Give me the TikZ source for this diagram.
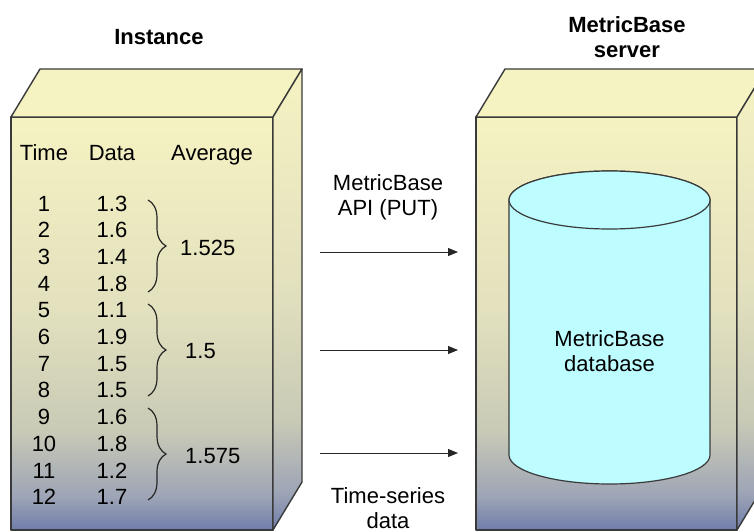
\documentclass[tikz,border=0pt]{standalone}
\usepackage{fontspec}
\setmainfont{Liberation Sans}
\usetikzlibrary{decorations.pathreplacing,arrows.meta}
\definecolor{lineC}{HTML}{3A3A3A}
\definecolor{topC}{HTML}{F6F3C2}
\definecolor{cT}{HTML}{F5F2C2}
\definecolor{cM}{HTML}{E3E1BE}
\definecolor{cMM}{HTML}{C9CAB6}
\definecolor{cBB}{HTML}{9DA4B6}
\definecolor{cB}{HTML}{6F7DAA}
\definecolor{cylC}{HTML}{BDFCFF}
\pgfdeclareverticalshading{boxshade}{100bp}{color(0bp)=(cB); color(25bp)=(cB); color(29bp)=(cBB); color(37bp)=(cMM); color(52bp)=(cM); color(75bp)=(cT); color(100bp)=(cT)}
\begin{document}
\begin{tikzpicture}[x=1pt,y=-1pt,
  font=\fontsize{22}{25}\selectfont,
  edge/.style={draw=lineC, line width=1.4pt, line join=round},
  face/.style={edge, shading=boxshade},
  topface/.style={edge, fill=topC},
  lbl/.style={align=center, inner sep=0pt},
  title/.style={lbl, font=\fontsize{22}{25}\selectfont\bfseries},
  cell/.style={anchor=base, inner sep=0pt},
  arr/.style={-{Triangle[length=10pt,width=8pt]}, line width=1pt, draw=black!85},
  br/.style={decorate, decoration={brace, amplitude=18pt}, line width=1.2pt, draw=black!85},
  cyl/.style={draw=lineC, line width=1.2pt, fill=cylC}]
\useasboundingbox (0,0) rectangle (754,532);
% left box
\coordinate (L1) at (11,117); \coordinate (L2) at (273,117);
\coordinate (L3) at (273,530); \coordinate (L4) at (11,530);
\coordinate (L5) at (40,69); \coordinate (L6) at (302,69); \coordinate (L7) at (302,482);
\path[face] (L1) -- (L2) -- (L3) -- (L4) -- cycle;
\path[topface] (L1) -- (L5) -- (L6) -- (L2) -- cycle;
\path[face] (L2) -- (L6) -- (L7) -- (L3) -- cycle;
% right box
\coordinate (R1) at (476,117); \coordinate (R2) at (737,117);
\coordinate (R3) at (737,530); \coordinate (R4) at (476,530);
\coordinate (R5) at (505,69); \coordinate (R6) at (766,69); \coordinate (R7) at (766,482);
\path[face] (R1) -- (R2) -- (R3) -- (R4) -- cycle;
\path[topface] (R1) -- (R5) -- (R6) -- (R2) -- cycle;
\path[face] (R2) -- (R6) -- (R7) -- (R3) -- cycle;
% titles
\node[title] (inst) at (159,37) {Instance};
\node[title] (srv) at (627,37) {MetricBase\\server};
% table
\node[cell] (hT) at (44,160) {Time};
\node[cell] (hD) at (112,160) {Data};
\node[cell] (hA) at (212,160) {Average};
\foreach \t/\d [count=\i] in {1/1.3,2/1.6,3/1.4,4/1.8,5/1.1,6/1.9,7/1.5,8/1.5,9/1.6,10/1.8,11/1.2,12/1.7}{
  \node[cell] (t\i) at (44,{211+26.7*(\i-1)}) {\t};
  \node[cell] (d\i) at (112,{211+26.7*(\i-1)}) {\d};
}
\foreach \k in {1,2,3}{
  \coordinate (bs\k) at (148,{200+104*(\k-1)});
  \coordinate (be\k) at (148,{292+104*(\k-1)});
  \draw[br] (bs\k) -- (be\k);
}
\node[cell, anchor=base west] (a1) at (180,255) {1.525};
\node[cell, anchor=base west] (a2) at (185,358) {1.5};
\node[cell, anchor=base west] (a3) at (185,463) {1.575};
% cylinder
\path[cyl] (509,200) -- (509,455) arc[start angle=180, end angle=360, x radius=100.5pt, y radius=29pt] -- (710,200) arc[start angle=0, end angle=180, x radius=100.5pt, y radius=29pt] -- cycle;
\draw[cyl] (609.5,200) ellipse [x radius=100.5pt, y radius=29pt];
\node[lbl] (db) at (609.5,351) {MetricBase\\database};
% arrows
\node[lbl] (api) at (388,197) {MetricBase\\API (PUT)};
\node[lbl] (ts) at (388,508) {Time-series\\data};
\foreach \y [count=\i] in {252,350,453}{
  \coordinate (s\i) at (320,\y);
  \coordinate (e\i) at (458,\y);
  \draw[arr] (s\i) -- (e\i);
}
\end{tikzpicture}
\end{document}
